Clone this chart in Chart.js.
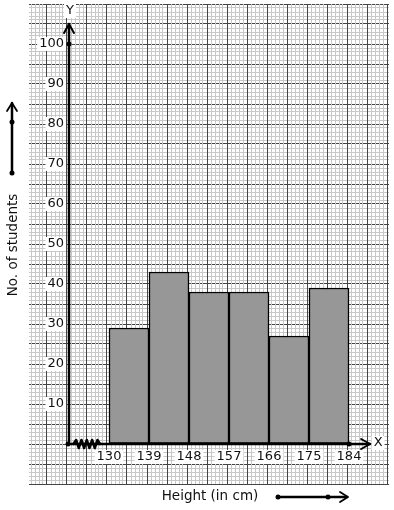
<!DOCTYPE html>
<html>
<head>
<meta charset="utf-8">
<script src="https://cdn.jsdelivr.net/npm/chart.js@4.4.1/dist/chart.umd.min.js"></script>
<style>
  html, body { margin: 0; padding: 0; background: #fff; }
  #wrap { width: 394px; height: 510px; }
</style>
</head>
<body>
<div id="wrap"><canvas id="histogram" width="394" height="510"></canvas></div>
<script>
// class boundaries (cm) and frequencies
const classEdges = [130, 139, 148, 157, 166, 175, 184];
const students = [29, 43, 38, 38, 27, 39];
const yTickLabels = [10, 20, 30, 40, 50, 60, 70, 80, 90, 100];
const xTickLabels = [130, 139, 148, 157, 166, 175, 184];

const xMin = 112, xMax = 193, xOrigin = 121;
const yMin = -10, yMax = 110;

const FONT = '"DejaVu Sans", sans-serif';

const barPoints = students.map((count, i) => ({
  x: (classEdges[i] + classEdges[i + 1]) / 2,
  y: count
}));

function strokePath(ctx, pts, width) {
  ctx.beginPath();
  ctx.moveTo(pts[0][0], pts[0][1]);
  for (let i = 1; i < pts.length; i++) ctx.lineTo(pts[i][0], pts[i][1]);
  ctx.lineWidth = width;
  ctx.stroke();
}

function dot(ctx, x, y, r) {
  ctx.beginPath();
  ctx.arc(x, y, r, 0, Math.PI * 2);
  ctx.fill();
}

function boxedText(ctx, text, x, y, align) {
  const w = ctx.measureText(text).width;
  const left = align === 'right' ? x - w : x - w / 2;
  ctx.fillStyle = '#fff';
  ctx.fillRect(left - 2, y - 7, w + 4, 14);
  ctx.fillStyle = '#111';
  ctx.textAlign = align;
  ctx.fillText(text, x, y);
}

const axesOverlay = {
  id: 'axesOverlay',
  afterDatasetsDraw(chart) {
    const ctx = chart.ctx;
    const xs = chart.scales.x;
    const ys = chart.scales.y;
    const ox = xs.getPixelForValue(xOrigin);
    const oy = ys.getPixelForValue(0);
    const yTop = ys.getPixelForValue(105);
    const xEnd = xs.getPixelForValue(188.75);

    ctx.save();
    ctx.strokeStyle = '#000';
    ctx.fillStyle = '#000';
    ctx.lineCap = 'round';
    ctx.lineJoin = 'round';

    // y axis with arrow
    strokePath(ctx, [[ox, oy], [ox, yTop]], 2.5);
    strokePath(ctx, [[ox - 5, yTop + 9], [ox, yTop], [ox + 5, yTop + 9]], 2);
    dot(ctx, ox, ys.getPixelForValue(100), 2.5);

    // x axis with arrow
    strokePath(ctx, [[ox, oy], [xEnd, oy]], 2.5);
    strokePath(ctx, [[xEnd - 9, oy - 5], [xEnd, oy], [xEnd - 9, oy + 5]], 2);
    dot(ctx, ox - 1, oy, 2.5);
    dot(ctx, xs.getPixelForValue(184), oy, 2.5);

    // kink on the x axis
    const z0 = xs.getPixelForValue(122);
    const z1 = xs.getPixelForValue(128);
    const zig = [];
    const n = 10;
    for (let i = 0; i <= n; i++) {
      zig.push([z0 + (z1 - z0) * i / n, oy + (i === 0 || i === n ? 0 : (i % 2 ? -4 : 4))]);
    }
    strokePath(ctx, zig, 2.5);

    ctx.font = '13px ' + FONT;
    ctx.textBaseline = 'middle';

    // axis letters
    boxedText(ctx, 'Y', ox + 1, 11, 'center');
    boxedText(ctx, 'X', xEnd + 8, oy - 1, 'center');

    // tick labels
    yTickLabels.forEach(v => boxedText(ctx, String(v), ox - 5, ys.getPixelForValue(v), 'right'));
    xTickLabels.forEach(v => boxedText(ctx, String(v), xs.getPixelForValue(v), oy + 13, 'center'));

    // axis titles
    ctx.font = '13.5px ' + FONT;
    ctx.fillStyle = '#111';
    ctx.textAlign = 'center';
    ctx.fillText('Height (in cm)', 210, 496);
    ctx.save();
    ctx.translate(13, 245);
    ctx.rotate(-Math.PI / 2);
    ctx.fillText('No. of students', 0, 0);
    ctx.restore();

    // direction arrows next to the titles
    ctx.fillStyle = '#000';
    strokePath(ctx, [[278, 497], [347, 497]], 2.5);
    strokePath(ctx, [[340, 492], [348, 497], [340, 502]], 1.8);
    dot(ctx, 278, 497, 2.5);
    dot(ctx, 328, 497, 2.5);

    strokePath(ctx, [[12, 173], [12, 103]], 2.5);
    strokePath(ctx, [[7, 111], [12, 103], [17, 111]], 1.8);
    dot(ctx, 12, 173, 2.5);
    dot(ctx, 12, 122, 2.5);

    ctx.restore();
  }
};

function gridColor(c) {
  return c.index % 5 === 0 ? '#454545' : '#c8c8c8';
}

new Chart(document.getElementById('histogram'), {
  type: 'bar',
  data: {
    datasets: [{
      data: barPoints,
      backgroundColor: '#979797',
      borderColor: '#000',
      borderWidth: 1.5,
      borderSkipped: false,
      barPercentage: 1,
      categoryPercentage: 1
    }]
  },
  options: {
    responsive: false,
    devicePixelRatio: 1,
    animation: false,
    layout: { padding: { left: 29, top: 4, right: 5, bottom: 26 } },
    plugins: { legend: { display: false }, tooltip: { enabled: false } },
    scales: {
      x: {
        type: 'linear',
        min: xMin,
        max: xMax,
        offset: false,
        display: false,
        ticks: { stepSize: 9 }
      },
      xg: {
        type: 'linear',
        axis: 'x',
        position: 'bottom',
        min: xMin,
        max: xMax,
        offset: false,
        border: { display: false },
        ticks: { display: false, stepSize: 0.9 },
        grid: { color: gridColor, lineWidth: 1, drawTicks: false, z: -1 }
      },
      y: {
        type: 'linear',
        min: yMin,
        max: yMax,
        border: { display: false },
        ticks: { display: false, stepSize: 1 },
        grid: { color: gridColor, lineWidth: 1, drawTicks: false, z: -2 }
      }
    }
  },
  plugins: [axesOverlay]
});
</script>
</body>
</html>
